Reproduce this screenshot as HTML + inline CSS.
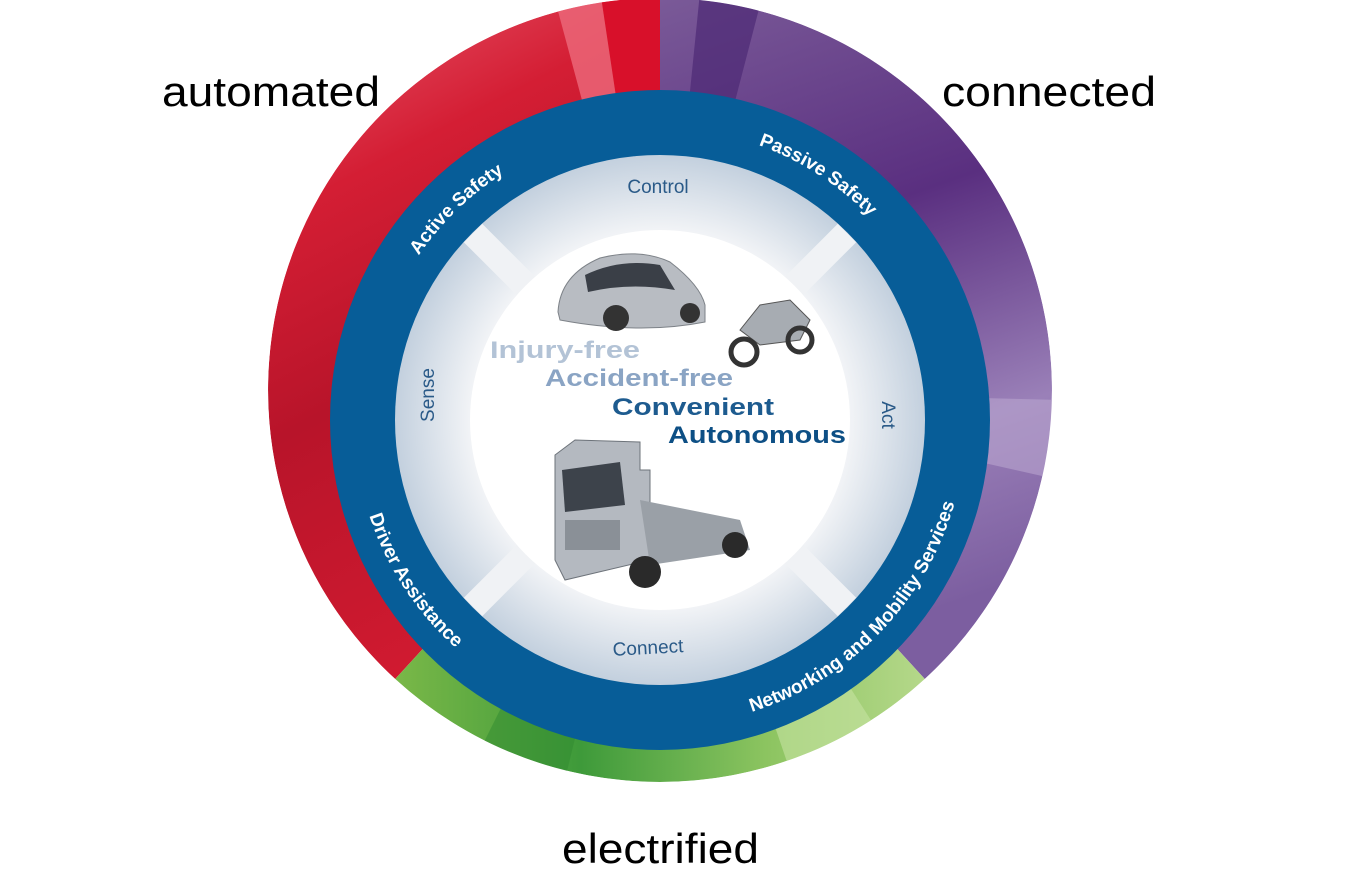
<!DOCTYPE html>
<html><head><meta charset="utf-8"><style>
html,body{margin:0;padding:0;background:#fff;}
svg{display:block;}
</style></head><body>
<svg width="1359" height="883" viewBox="0 0 1359 883" xmlns="http://www.w3.org/2000/svg" font-family="Liberation Sans, sans-serif">
<defs>
<linearGradient id="red" x1="0" y1="0" x2="0.3" y2="1">
<stop offset="0" stop-color="#e85a6e"/><stop offset="0.3" stop-color="#d41e34"/><stop offset="0.6" stop-color="#b8142a"/><stop offset="1" stop-color="#d01a30"/></linearGradient>
<linearGradient id="pur" x1="0" y1="0" x2="0.2" y2="1">
<stop offset="0" stop-color="#7a5a98"/><stop offset="0.4" stop-color="#5a2f80"/><stop offset="0.75" stop-color="#9a80b8"/><stop offset="1" stop-color="#7c5ea0"/></linearGradient>
<linearGradient id="grn" x1="0" y1="0" x2="1" y2="0">
<stop offset="0" stop-color="#7ab848"/><stop offset="0.35" stop-color="#3e9a3a"/><stop offset="0.7" stop-color="#8cc460"/><stop offset="1" stop-color="#b5d88a"/></linearGradient>
<radialGradient id="gray" cx="0.5" cy="0.5" r="0.5">
<stop offset="0.72" stop-color="#f1f3f6"/><stop offset="1" stop-color="#c3d0de"/></radialGradient>
<clipPath id="oc"><circle cx="660" cy="390" r="392"/></clipPath>
<path id="pA" d="M372.4,369.2 A292,292 0 0 1 660,128"/>
<path id="pP" d="M660,128 A292,292 0 0 1 947.6,369.2"/>
<path id="pD" d="M358.6,366.8 A306,306 0 0 0 606.9,721.4"/>
<path id="pN" d="M686.7,724.8 A306,306 0 0 0 961.4,366.8"/>
</defs>
<g clip-path="url(#oc)">
<path d="M660,390 L395.2,679 A392,392 0 0 1 660,-2 Z" fill="url(#red)"/>
<path d="M660,390 L660,-2 A392,392 0 0 1 924.8,679 Z" fill="url(#pur)"/>
<path d="M660,390 L924.8,679 A392,392 0 0 1 395.2,679 Z" fill="url(#grn)"/>
<path d="M660,390 L600,-10 L660,-10 Z" fill="#d8102a"/>
<path d="M660,390 L555,0 L600,-10 Z" fill="#ec6a7c" opacity="0.8"/>
<path d="M660,390 L760,5 L700,-8 Z" fill="#4d2a75" opacity="0.7"/>
<path d="M660,390 L1060,480 L1060,400 Z" fill="#b9a5cf" opacity="0.6"/>
<path d="M660,390 L560,800 L470,770 Z" fill="#2f8a30" opacity="0.5"/>
<path d="M660,390 L800,800 L890,750 Z" fill="#c6e2a2" opacity="0.6"/>
</g>
<circle cx="660" cy="420" r="330" fill="#075d98"/>
<circle cx="660" cy="420" r="265" fill="url(#gray)"/>
<g stroke="#f0f2f5" stroke-width="26">
<line x1="660" y1="420" x2="847" y2="233"/><line x1="660" y1="420" x2="473" y2="233"/>
<line x1="660" y1="420" x2="847" y2="607"/><line x1="660" y1="420" x2="473" y2="607"/>
</g>
<circle cx="660" cy="420" r="190" fill="#fff"/>
<g fill="#fff" font-weight="bold" font-size="19">
<text><textPath href="#pA" startOffset="45%" text-anchor="middle">Active Safety</textPath></text>
<text><textPath href="#pP" startOffset="41%" text-anchor="middle">Passive Safety</textPath></text>
<text><textPath href="#pD" startOffset="48%" text-anchor="middle">Driver Assistance</textPath></text>
<text><textPath href="#pN" startOffset="43%" text-anchor="middle">Networking and Mobility Services</textPath></text>
</g>
<g fill="#2a5a88" font-size="19">
<text x="658" y="193" text-anchor="middle">Control</text>
<text x="648" y="654" text-anchor="middle" transform="rotate(-3 648 648)">Connect</text>
<text x="434" y="395" text-anchor="middle" transform="rotate(-90 434 395)">Sense</text>
<text x="882" y="415" text-anchor="middle" transform="rotate(90 882 415)">Act</text>
</g>
<g>
<path d="M558,312 Q560,275 600,258 Q640,248 670,262 Q700,285 705,305 L705,322 Q640,335 560,320 Z" fill="#b8bcc2" stroke="#7d8288"/>
<path d="M585,275 Q620,258 660,265 L675,290 Q630,282 588,292 Z" fill="#3a3f47"/>
<circle cx="616" cy="318" r="13" fill="#333"/><circle cx="690" cy="313" r="10" fill="#333"/>
<path d="M740,330 L760,305 L790,300 L810,320 L800,340 L760,345 Z" fill="#a7acb2" stroke="#555"/>
<circle cx="744" cy="352" r="13" fill="none" stroke="#333" stroke-width="5"/>
<circle cx="800" cy="340" r="12" fill="none" stroke="#333" stroke-width="5"/>
<path d="M555,455 L575,440 L640,442 L640,470 L650,470 L650,560 L565,580 L555,560 Z" fill="#b4b9c0" stroke="#6d737a"/>
<path d="M562,470 L620,462 L625,505 L565,512 Z" fill="#3d434b"/>
<path d="M640,500 L740,520 L750,550 L650,565 Z" fill="#9aa0a7"/>
<rect x="565" y="520" width="55" height="30" fill="#8a9097"/>
<circle cx="645" cy="572" r="16" fill="#2a2a2a"/><circle cx="735" cy="545" r="13" fill="#2a2a2a"/>
</g>
<g font-weight="bold" font-size="24">
<text x="490" y="358" fill="#b3c3d6" textLength="150" lengthAdjust="spacingAndGlyphs">Injury-free</text>
<text x="545" y="386" fill="#8aa4c4" textLength="188" lengthAdjust="spacingAndGlyphs">Accident-free</text>
<text x="612" y="415" fill="#1d5b8f" textLength="162" lengthAdjust="spacingAndGlyphs">Convenient</text>
<text x="668" y="443" fill="#0d4f85" textLength="178" lengthAdjust="spacingAndGlyphs">Autonomous</text>
</g>
<g font-size="42" fill="#000">
<text x="162" y="106" textLength="218" lengthAdjust="spacingAndGlyphs">automated</text>
<text x="942" y="106" textLength="214" lengthAdjust="spacingAndGlyphs">connected</text>
<text x="562" y="863" textLength="197" lengthAdjust="spacingAndGlyphs">electrified</text>
</g>
</svg>
</body></html>
